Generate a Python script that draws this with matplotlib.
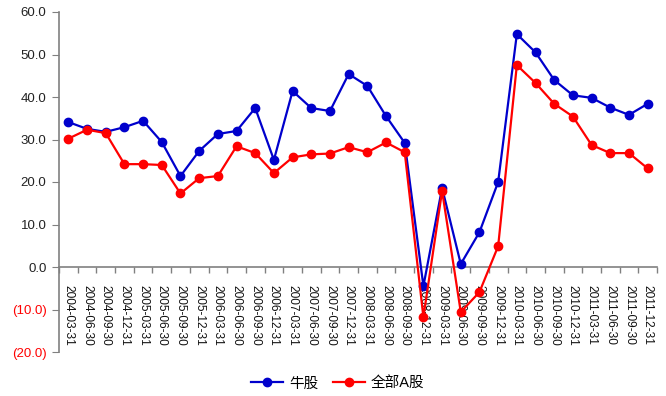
import matplotlib
matplotlib.use("Agg")
import matplotlib.pyplot as plt
from matplotlib.ticker import FixedLocator

plt.rcParams['font.family'] = ['Liberation Sans', 'Noto Sans CJK SC', 'DejaVu Sans']

dates = ["2004-03-31", "2004-06-30", "2004-09-30", "2004-12-31",
         "2005-03-31", "2005-06-30", "2005-09-30", "2005-12-31",
         "2006-03-31", "2006-06-30", "2006-09-30", "2006-12-31",
         "2007-03-31", "2007-06-30", "2007-09-30", "2007-12-31",
         "2008-03-31", "2008-06-30", "2008-09-30", "2008-12-31",
         "2009-03-31", "2009-06-30", "2009-09-30", "2009-12-31",
         "2010-03-31", "2010-06-30", "2010-09-30", "2010-12-31",
         "2011-03-31", "2011-06-30", "2011-09-30", "2011-12-31"]
bull = [34.1, 32.5, 31.8, 32.9, 34.4, 29.4, 21.4, 27.3,
        31.3, 32.0, 37.4, 25.2, 41.4, 37.4, 36.7, 45.4,
        42.6, 35.5, 29.2, -4.5, 18.6, 0.7, 8.2, 20.0,
        54.8, 50.5, 44.0, 40.4, 39.8, 37.5, 35.8, 38.4]
all_a = [30.2, 32.3, 31.5, 24.2, 24.2, 24.0, 17.3, 20.9,
         21.4, 28.4, 26.8, 22.1, 25.8, 26.5, 26.7, 28.2,
         27.0, 29.3, 27.0, -11.8, 17.9, -10.6, -5.9, 4.9,
         47.5, 43.3, 38.4, 35.4, 28.7, 26.8, 26.8, 23.2]
series_names = ["牛股", "全部A股"]
yticks = [-20, -10, 0, 10, 20, 30, 40, 50, 60]

fig = plt.figure(figsize=(6.66, 3.96), dpi=100)
ax = fig.add_axes([59/666, 44/396, 598/666, 340/396])

x = list(range(len(dates)))
ax.plot(x, bull, color='#0000CC', lw=1.6, marker='o', ms=6, label=series_names[0], zorder=3)
ax.plot(x, all_a, color='#FF0000', lw=1.6, marker='o', ms=6, label=series_names[1], zorder=3)

ax.set_xlim(-0.5, len(dates) - 0.5)
ax.set_ylim(-20, 60)

for s in ['top', 'right']:
    ax.spines[s].set_visible(False)
ax.spines['bottom'].set_position(('data', 0))
ax.spines['bottom'].set_color('#808080')
ax.spines['left'].set_color('#808080')
ax.spines['bottom'].set_linewidth(1.2)
ax.spines['left'].set_linewidth(1.2)

ax.set_yticks(yticks)
labels = []
for v in yticks:
    labels.append(f"({abs(v):.1f})" if v < 0 else f"{v:.1f}")
ax.set_yticklabels(labels, fontsize=9.5)
for t, v in zip(ax.get_yticklabels(), yticks):
    t.set_color('#FF0000' if v < 0 else '#222222')
ax.tick_params(axis='y', direction='out', length=5, color='#808080', pad=4)

ax.set_xticks(x)
ax.set_xticklabels(dates, rotation=270, fontsize=8.6, color='#111111')
ax.tick_params(axis='x', which='major', length=0, pad=13)
ax.xaxis.set_minor_locator(FixedLocator([i - 0.5 for i in range(len(dates) + 1)]))
ax.tick_params(axis='x', which='minor', direction='out', length=4, color='#808080', width=1)

leg = ax.legend(loc='lower center', bbox_to_anchor=(338/666, -0.008), bbox_transform=fig.transFigure,
                ncol=2, frameon=False, fontsize=10.5, handlelength=2.2, columnspacing=1.0,
                handletextpad=0.4, borderaxespad=0.2)

fig.savefig("out.png", dpi=100)
